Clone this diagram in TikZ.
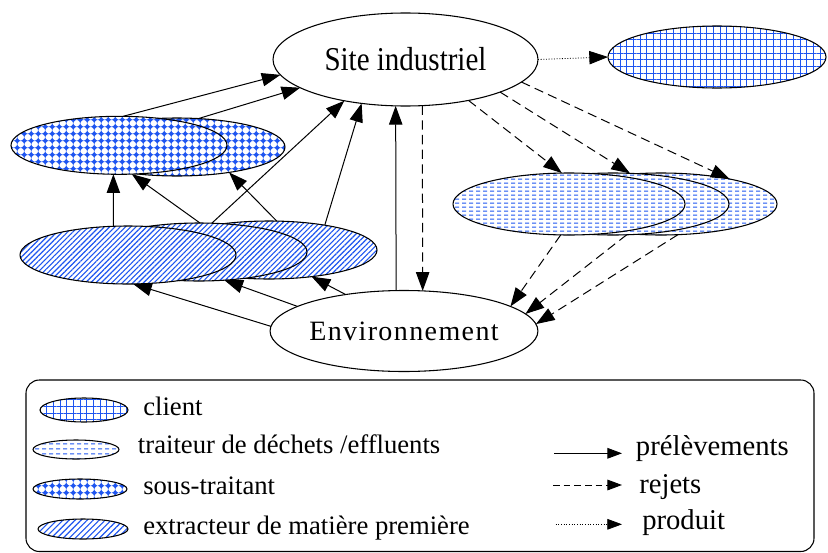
\documentclass[tikz,border=0pt]{standalone}
\usepackage{fontspec}
\setmainfont{Liberation Serif}
\newfontfamily\envfont[LetterSpace=5]{Liberation Serif}
\newfontfamily\sitefont[FakeStretch=0.87]{Liberation Serif}
\usetikzlibrary{shapes.geometric,arrows.meta,patterns,patterns.meta}
\definecolor{pblue}{RGB}{30,85,240}

\tikzdeclarepattern{
  name=hdash, type=uncolored,
  bounding box={(0pt,0pt) and (5.25pt,3.3pt)},
  tile size={(5.25pt,3.3pt)},
  code={\draw[line width=0.8pt] (0pt,1.65pt) -- (3.6pt,1.65pt);}
}
\tikzdeclarepattern{
  name=diamonds, type=uncolored,
  bounding box={(0pt,0pt) and (5.4pt,5.4pt)},
  tile size={(5.4pt,5.4pt)},
  code={
    \fill (2.7pt,0.5pt) -- (4.9pt,2.7pt) -- (2.7pt,4.9pt) -- (0.5pt,2.7pt) -- cycle;
    \draw[line width=0.7pt] (0pt,2.7pt) -- (5.4pt,2.7pt) (2.7pt,0pt) -- (2.7pt,5.4pt);
  }
}

\begin{document}
\begin{tikzpicture}[x=0.75pt,y=-0.75pt,
  blob/.style={ellipse, draw=black, line width=0.8pt, inner sep=0pt, outer sep=0pt},
  cli/.style={blob, preaction={fill=white}, pattern={Hatch[angle=0,distance=5pt,line width=0.55pt]}, pattern color=pblue},
  trt/.style={blob, preaction={fill=white}, pattern=hdash, pattern color=pblue},
  sst/.style={blob, preaction={fill=white}, pattern=diamonds, pattern color=pblue},
  ext/.style={blob, preaction={fill=white}, pattern={Lines[angle=45,distance=2.8pt,line width=0.85pt]}, pattern color=pblue},
  whiteblob/.style={blob, fill=white},
  conn/.style={line width=0.75pt, -{Triangle[length=14pt,width=10pt]}},
  rej/.style={conn, dash pattern=on 7pt off 4pt},
  prod/.style={conn, dash pattern=on 0.7pt off 1.3pt, line width=0.6pt},
  lconn/.style={line width=0.75pt, -{Triangle[length=11pt,width=8pt]}},
  lrej/.style={lconn, dash pattern=on 5pt off 3pt},
  lprod/.style={lconn, dash pattern=on 0.7pt off 1.3pt, line width=0.6pt},
  lab/.style={font=\fontsize{20}{24}\selectfont, anchor=base west, inner sep=0pt},
  rlab/.style={font=\fontsize{21.5}{26}\selectfont, anchor=base west, inner sep=0pt},
]
\useasboundingbox (0,0) rectangle (828,553);

% main nodes
\node[whiteblob, minimum width=198.75pt, minimum height=69.75pt] (site) at (405.5,59.5) {\sitefont\fontsize{25}{28}\selectfont Site industriel};
\node[cli, minimum width=163.5pt, minimum height=46.5pt] (client) at (717,57) {};

\node[trt, minimum width=174pt, minimum height=46.5pt] (t3) at (661,204) {};
\node[trt, minimum width=174pt, minimum height=46.5pt] (t2) at (613,204) {};
\node[trt, minimum width=174pt, minimum height=46.5pt] (t1) at (569,204) {};

\node[sst, minimum width=162pt, minimum height=43.5pt] (sB) at (177,147) {};
\node[sst, minimum width=162pt, minimum height=43.5pt] (sA) at (119,145.3) {};

\node[ext, minimum width=162pt, minimum height=43.5pt] (e3) at (269,250) {};
\node[ext, minimum width=162pt, minimum height=43.5pt] (e2) at (199,252) {};
\node[ext, minimum width=162pt, minimum height=43.5pt] (e1) at (128,255) {};

\node[whiteblob, minimum width=196.5pt, minimum height=60.75pt] (env) at (404,331) {\envfont\fontsize{21}{25}\selectfont Environnement};

% connectors
\draw[conn] (sA.82) -- (site.187.6);
\draw[conn] (sB.53.7) -- (site.195.9);
\draw[conn] (e1.117.6) -- (sA.-101.7);
\draw[conn] (e2.88) -- (sA.-66.2);
\draw[conn] (e2.66.6) -- (site.214.3);
\draw[conn] (e3.75.1) -- (sB.-26.1);
\draw[conn] (e3.24.1) -- (site.225);
\draw[conn] (env.101.2) -- (site.258.4);
\draw[rej] (site.-70.3) -- (env.65.8);
\draw[conn] (env.178.5) -- (e1.-80.5);
\draw[conn] (env.167.8) -- (e2.-48.8);
\draw[conn] (env.148.6) -- (e3.-32.5);
\draw[rej] (site.-33.4) -- (t1.103.1);
\draw[rej] (site.-19.2) -- (t2.61.5);
\draw[rej] (site.-11.3) -- (t3.20.6);
\draw[rej] (t1.-105.4) -- (env.13.2);
\draw[rej] (t2.-66.2) -- (env.8.55);
\draw[rej] (t3.-61.3) -- (env.3.5);
\draw[prod] (site.east) -- (client.west);

% legend
\draw[line width=0.8pt, rounded corners=10pt] (26,380) rectangle (814,551.5);
\node[cli, minimum width=66pt, minimum height=18pt] (lgc) at (84,410) {};
\node[trt, minimum width=64.5pt, minimum height=14.25pt] (lgt) at (76,449.5) {};
\node[sst, minimum width=70.5pt, minimum height=15pt] (lgs) at (80,489) {};
\node[blob, preaction={fill=white}, pattern={Lines[angle=45,distance=3.2pt,line width=0.85pt]}, pattern color=pblue, minimum width=67.5pt, minimum height=15pt] (lge) at (83,529) {};
\node[lab] (tc) at (143,415.7) {client};
\node[lab] (tt) at (137.7,453) {traiteur de déchets /effluents};
\node[lab] (ts) at (143,494) {sous-traitant};
\node[lab] (te) at (143,534) {extracteur de matière première};

\coordinate (p1) at (554,453.3);
\coordinate (p2) at (622,453.3);
\coordinate (r1) at (553,485);
\coordinate (r2) at (622,485);
\coordinate (d1) at (555.7,524.3);
\coordinate (d2) at (622,524.3);
\draw[lconn] (p1) -- (p2);
\draw[lrej] (r1) -- (r2);
\draw[lprod] (d1) -- (d2);
\node[rlab] (tp) at (635.7,455) {prélèvements};
\node[rlab] (tr) at (639,493) {rejets};
\node[rlab] (td) at (642,529) {produit};
\end{tikzpicture}
\end{document}
